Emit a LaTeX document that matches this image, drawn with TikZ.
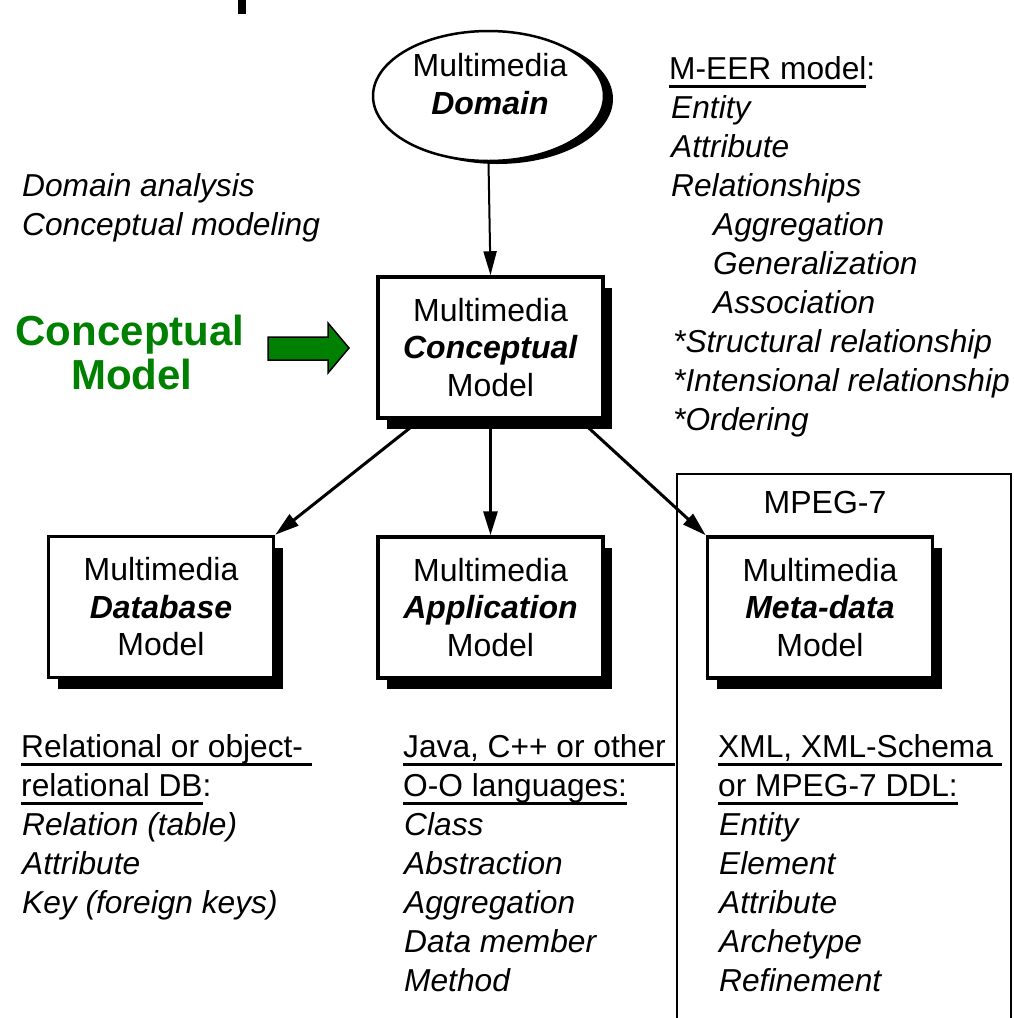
\documentclass[tikz,border=0pt]{standalone}
\usepackage{fontspec}
\setmainfont{Liberation Sans}
\usetikzlibrary{shadows,arrows.meta,shapes.geometric}
\definecolor{dkgreen}{RGB}{0,128,0}
\newcommand{\myul}[1]{\setbox0\hbox{#1}\rlap{\rule[-9pt]{\wd0}{3pt}}\box0}
\begin{document}
\begin{tikzpicture}[x=1pt,y=-1pt,
  txt/.style={anchor=base west, inner sep=0pt, font=\fontsize{31.7}{39}\selectfont},
  itl/.style={anchor=base west, inner sep=0pt, font=\fontsize{31.7}{39}\selectfont\itshape},
  mbox/.style={draw, line width=3.5pt, fill=white, minimum width=225pt, minimum height=141pt,
    align=center, inner sep=0pt, font=\fontsize{32}{37.5}\selectfont,
    drop shadow={shadow xshift=9pt, shadow yshift=-11pt, fill=black, opacity=1}},
  arr/.style={line width=3pt, -{Triangle[length=24pt,width=14pt]}},
  greentxt/.style={anchor=base, inner sep=0pt, text=dkgreen, font=\fontsize{42}{48}\selectfont\bfseries}]
\useasboundingbox[fill=white] (0,0) rectangle (1014,1018);

% fragment at top
\fill (238,0) rectangle (246,14);

% domain ellipse
\node[ellipse, draw, line width=2.5pt, fill=white, minimum width=231pt, minimum height=130pt,
  drop shadow={shadow xshift=9pt, shadow yshift=-3pt, fill=black, opacity=1}] (dom) at (488.5,96) {};
\node[align=center, inner sep=0pt, font=\fontsize{32}{38}\selectfont] (domt) at (490,84)
  {Multimedia\\\textbf{\textit{Domain}}};

% conceptual box
\node[mbox] (con) at (490.5,347.5) {Multimedia\\\textbf{\textit{Conceptual}}\\Model};

% MPEG-7 frame
\draw[line width=2pt] (677,1018) -- (677,474) -- (1011,474) -- (1011,1018);
\node[anchor=base, inner sep=0pt, font=\fontsize{32}{39}\selectfont] (mpeg) at (825,513) {MPEG-7};

% bottom boxes
\node[mbox] (db) at (161,607) {Multimedia\\\textbf{\textit{Database}}\\Model};
\node[mbox] (app) at (490.5,607.5) {Multimedia\\\textbf{\textit{Application}}\\Model};
\node[mbox] (meta) at (820,607.5) {Multimedia\\\textbf{\textit{Meta-data}}\\Model};

% connectors
\draw[line width=2pt, -{Triangle[length=24pt,width=13pt]}] (dom.south) -- (con.north);
\draw[arr] ([xshift=44pt]con.south west) -- (db.north east);
\draw[arr] (con.south) -- (app.north);
\draw[arr] ([xshift=-25pt]con.south east) -- (meta.north west);

% green label and block arrow
\node[greentxt] (gl1) at (130,345) {Conceptual};
\node[greentxt] (gl2) at (132,389) {Model};
\draw[fill=dkgreen, line width=1.5pt, line join=miter]
  (268,337) -- (328,337) -- (328,323) -- (349,348) -- (328,373) -- (328,360) -- (268,360) -- cycle;

% left top text
\node[itl] (da) at (22,196) {Domain analysis};
\node[itl] (cm) at (22,235) {Conceptual modeling};

% M-EER list
\node[txt] (meer) at (669,79) {\myul{M-EER model}:};
\foreach [count=\i] \t in {Entity,Attribute,Relationships}
  \node[itl] (mr\i) at (671,79+39*\i) {\t};
\foreach [count=\i] \t in {Aggregation,Generalization,Association}
  \node[itl] (mi\i) at (713,196+39*\i) {\t};
\foreach [count=\i] \t in {{*Structural relationship},{*Intensional relationship},{*Ordering}}
  \node[itl] (ms\i) at (673,313+39*\i) {\t};

% bottom-left list
\node[txt] (dbh1) at (21,757) {\myul{Relational or object-\ }};
\node[txt] (dbh2) at (21,796) {\myul{relational DB}:};
\foreach [count=\i] \t in {{Relation (table)},Attribute,{Key (foreign keys)}}
  \node[itl] (dbl\i) at (22,796+39*\i) {\t};

% bottom-middle list
\node[txt] (aph1) at (403,757) {\myul{Java, C++ or other\ }};
\node[txt] (aph2) at (403,796) {\myul{O-O languages:}};
\foreach [count=\i] \t in {Class,Abstraction,Aggregation,{Data member},Method}
  \node[itl] (apl\i) at (404,796+39*\i) {\t};

% bottom-right list
\node[txt] (mdh1) at (718,757) {\myul{XML, XML-Schema\ }};
\node[txt] (mdh2) at (718,796) {\myul{or MPEG-7 DDL:}};
\foreach [count=\i] \t in {Entity,Element,Attribute,Archetype,Refinement}
  \node[itl] (mdl\i) at (719,796+39*\i) {\t};
\end{tikzpicture}
\end{document}
